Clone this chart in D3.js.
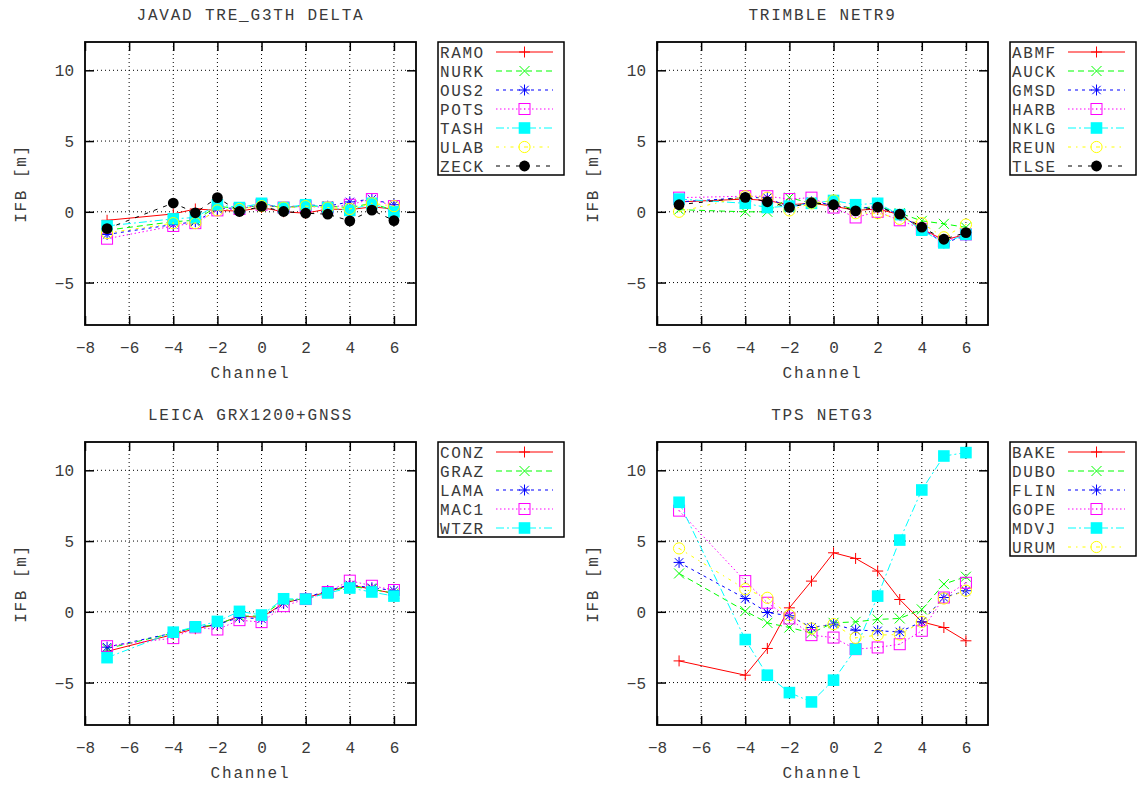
<!DOCTYPE html>
<html><head><meta charset="utf-8">
<script src="https://cdn.jsdelivr.net/npm/d3@7"></script>
<style>
html,body{margin:0;padding:0;background:#fff;}
text{font-family:"Liberation Mono","DejaVu Sans Mono",monospace;fill:#3a3a3a;}
</style></head>
<body><svg id="c" width="1137" height="787"></svg>
<script>
// ---------- data ----------
const channels = [-7, -4, -3, -2, -1, 0, 1, 2, 3, 4, 5, 6];
const xTicks = [-8, -6, -4, -2, 0, 2, 4, 6];
const yTicks = [-5, 0, 5, 10];

const titles = ["JAVAD TRE_G3TH DELTA", "TRIMBLE NETR9", "LEICA GRX1200+GNSS", "TPS NETG3"];

const javadStations = ["RAMO", "NURK", "OUS2", "POTS", "TASH", "ULAB", "ZECK"];
const RAMO = [-0.6, -0.15, 0.2, 0.1, 0.05, 0.3, 0.0, -0.1, 0.2, 0.15, 0.35, 0.2];
const NURK = [-1.3, -0.7, -0.6, 0.4, 0.2, 0.5, 0.3, 0.4, 0.4, 0.3, 0.6, 0.1];
const OUS2 = [-1.6, -0.9, -0.7, 0.2, 0.3, 0.5, 0.3, 0.5, 0.4, 0.7, 0.9, 0.5];
const POTS = [-1.9, -1.0, -0.8, 0.1, 0.2, 0.5, 0.3, 0.4, 0.3, 0.5, 0.9, 0.4];
const TASH = [-1.0, -0.5, -0.4, 0.5, 0.3, 0.6, 0.3, 0.5, 0.3, 0.1, 0.6, 0.0];
const ULAB = [-1.5, -0.8, -0.8, 0.1, 0.2, 0.4, 0.3, 0.4, 0.3, 0.2, 0.6, 0.4];
const ZECK = [-1.19, 0.62, -0.07, 1.0, 0.02, 0.38, 0.02, -0.1, -0.17, -0.64, 0.12, -0.62];

const trimbleStations = ["ABMF", "AUCK", "GMSD", "HARB", "NKLG", "REUN", "TLSE"];
const ABMF = [0.7, 0.9, 0.8, 0.5, 0.6, 0.4, 0.1, 0.2, -0.2, -1.2, -2.0, -1.6];
const AUCK = [0.15, 0.0, 0.0, 1.0, 0.6, 0.5, 0.2, 0.4, -0.1, -0.64, -0.85, -1.1];
const GMSD = [0.7, 1.0, 1.0, 0.3, 0.7, 0.5, 0.2, 0.4, -0.2, -1.2, -2.2, -1.7];
const HARB = [1.0, 1.1, 1.1, 0.9, 1.0, 0.3, -0.4, 0.0, -0.6, -1.2, -2.1, -1.6];
const NKLG = [0.9, 0.6, 0.3, 0.4, 0.6, 0.8, 0.5, 0.6, -0.2, -1.3, -2.2, -1.6];
const REUN = [0.0, 1.1, 1.0, 0.1, 0.6, 0.8, -0.1, -0.1, -0.5, -0.8, -1.8, -0.9];
const TLSE = [0.5, 1.02, 0.71, 0.31, 0.64, 0.5, 0.07, 0.33, -0.17, -1.09, -1.94, -1.47];

const leicaStations = ["CONZ", "GRAZ", "LAMA", "MAC1", "WTZR"];
const CONZ = [-2.8, -1.6, -1.2, -0.9, -0.3, -0.4, 0.6, 1.0, 1.4, 1.9, 1.6, 1.3];
const GRAZ = [-2.6, -1.5, -1.1, -0.9, -0.3, -0.3, 0.8, 0.9, 1.4, 1.8, 1.6, 1.3];
const LAMA = [-2.5, -1.5, -1.1, -0.9, -0.4, -0.5, 0.6, 1.0, 1.5, 1.9, 1.7, 1.5];
const MAC1 = [-2.43, -1.86, -1.1, -1.25, -0.59, -0.73, 0.4, 0.9, 1.4, 2.2, 1.84, 1.54];
const WTZR = [-3.24, -1.44, -1.06, -0.68, 0.03, -0.23, 0.92, 0.9, 1.33, 1.68, 1.4, 1.11];

const tpsStations = ["BAKE", "DUBO", "FLIN", "GOPE", "MDVJ", "URUM"];
const BAKE = [-3.47, -4.48, -2.59, 0.28, 2.17, 4.17, 3.77, 2.88, 0.87, -0.71, -1.11, -2.05];
const DUBO = [2.71, 0.05, -0.78, -1.11, -1.5, -0.78, -0.71, -0.54, -0.47, 0.17, 1.96, 2.48];
const FLIN = [3.49, 0.94, -0.05, -0.28, -1.11, -0.87, -1.3, -1.34, -1.42, -0.71, 1.01, 1.49];
const GOPE = [7.15, 2.17, 0.64, -0.47, -1.65, -1.82, -2.64, -2.52, -2.29, -1.34, 1.01, 2.05];
const MDVJ = [7.74, -1.96, -4.48, -5.71, -6.37, -4.83, -2.64, 1.11, 5.07, 8.61, 11.01, 11.25];
const URUM = [4.48, 1.6, 0.99, -0.24, -1.18, -0.87, -1.84, -1.65, -1.6, -0.71, 0.94, 1.49];

const panelSeries = [
  [RAMO, NURK, OUS2, POTS, TASH, ULAB, ZECK],
  [ABMF, AUCK, GMSD, HARB, NKLG, REUN, TLSE],
  [CONZ, GRAZ, LAMA, MAC1, WTZR],
  [BAKE, DUBO, FLIN, GOPE, MDVJ, URUM]
];
const panelStations = [javadStations, trimbleStations, leicaStations, tpsStations];

// ---------- styles ----------
const colors = ["#ff0000", "#00ff00", "#0000ff", "#ff00ff", "#00ffff", "#ffff00", "#000000"];
const dashes = [null, "6,4", "3,4", "1.5,2.5", "8,3,2,3", "3,5,1.5,5", "4,6"];
const symbols = ["plus", "cross", "star", "osquare", "fsquare", "ocircle", "fcircle"];

const svg = d3.select("#c");
const origins = [[85, 42], [657, 42], [85, 442], [657, 442]];
const PW = 331, PH = 283;

function drawMarker(g, type, x, y, c) {
  const s = 5.5;
  const mk = g.append("g").attr("class", "mk");
  if (type === "plus") {
    mk.append("path").attr("d", `M${x - s},${y}H${x + s}M${x},${y - s}V${y + s}`).style("stroke", c).attr("stroke-width", 1).attr("fill", "none");
  } else if (type === "cross") {
    const t = 5;
    mk.append("path").attr("d", `M${x - t},${y - t}L${x + t},${y + t}M${x - t},${y + t}L${x + t},${y - t}`).style("stroke", c).attr("stroke-width", 1).attr("fill", "none");
  } else if (type === "star") {
    const t = 4.2;
    mk.append("path").attr("d", `M${x - s},${y}H${x + s}M${x},${y - s}V${y + s}M${x - t},${y - t}L${x + t},${y + t}M${x - t},${y + t}L${x + t},${y - t}`).style("stroke", c).attr("stroke-width", 1).attr("fill", "none");
  } else if (type === "osquare") {
    mk.append("rect").attr("x", x - 5.5).attr("y", y - 5.5).attr("width", 11).attr("height", 11).style("stroke", c).attr("stroke-width", 1).attr("fill", "none");
    mk.append("rect").attr("x", x - 0.5).attr("y", y - 0.5).attr("width", 1).attr("height", 1).style("fill", c);
  } else if (type === "fsquare") {
    mk.append("rect").attr("x", x - 5.8).attr("y", y - 5.8).attr("width", 11.6).attr("height", 11.6).style("fill", c);
  } else if (type === "ocircle") {
    mk.append("circle").attr("cx", x).attr("cy", y).attr("r", 5.6).style("stroke", c).attr("stroke-width", 1).attr("fill", "none");
    mk.append("rect").attr("x", x - 0.5).attr("y", y - 0.5).attr("width", 1).attr("height", 1).style("fill", c);
  } else if (type === "fcircle") {
    mk.append("circle").attr("cx", x).attr("cy", y).attr("r", 5.4).style("fill", c);
  }
}

panelSeries.forEach((series, p) => {
  const [ox, oy] = origins[p];
  const g = svg.append("g").attr("transform", `translate(${ox},${oy})`);
  const x = d3.scaleLinear().domain([-8, 7]).range([0, PW]);
  const y = d3.scaleLinear().domain([-8, 12]).range([PH, 0]);

  // grid
  const grid = g.append("g");
  xTicks.filter(t => t > -8).forEach(t => {
    grid.append("line").attr("x1", x(t)).attr("x2", x(t)).attr("y1", 0).attr("y2", PH)
      .attr("stroke", "#000").attr("stroke-width", 1).attr("stroke-dasharray", "1,3");
  });
  yTicks.forEach(t => {
    grid.append("line").attr("x1", 0).attr("x2", PW).attr("y1", y(t)).attr("y2", y(t))
      .attr("stroke", "#000").attr("stroke-width", 1).attr("stroke-dasharray", "1,3");
  });

  // axes via d3 (inside ticks, mirrored)
  const tl = 9;
  const fmt = d => d < 0 ? "\u2212" + Math.abs(d) : d;
  const axB = d3.axisBottom(x).tickValues(xTicks).tickSize(-tl).tickFormat(fmt);
  const axT = d3.axisTop(x).tickValues(xTicks).tickSize(-tl).tickFormat("");
  const axL = d3.axisLeft(y).tickValues(yTicks).tickSize(-tl).tickFormat(fmt);
  const axR = d3.axisRight(y).tickValues(yTicks).tickSize(-tl).tickFormat("");
  const styleAx = (sel) => {
    sel.select(".domain").remove();
    sel.selectAll(".tick line").attr("stroke", "#000").attr("stroke-width", 1.5);
    sel.selectAll("text").style("font-family", '"Liberation Mono", monospace').style("font-size", "16px").style("fill", "#3a3a3a");
  };
  const gb = g.append("g").attr("transform", `translate(0,${PH})`).call(axB).call(styleAx);
  gb.selectAll("text").attr("dy", "0").attr("y", 28);
  g.append("g").call(axT).call(styleAx);
  const gl = g.append("g").call(axL).call(styleAx);
  gl.selectAll("text").attr("x", -11).attr("dy", "0.35em");
  g.append("g").attr("transform", `translate(${PW},0)`).call(axR).call(styleAx);

  // border
  g.append("rect").attr("x", 0).attr("y", 0).attr("width", PW).attr("height", PH)
    .attr("fill", "none").attr("stroke", "#000").attr("stroke-width", 1.8);

  // series
  const line = d3.line().x((d, i) => x(channels[i])).y(d => y(d));
  series.forEach((vals, s) => {
    const sg = g.append("g");
    sg.append("path").attr("d", line(vals)).attr("fill", "none").style("stroke", colors[s])
      .attr("stroke-width", 1).attr("stroke-dasharray", dashes[s]);
    vals.forEach((v, i) => drawMarker(sg, symbols[s], x(channels[i]), y(v), colors[s]));
  });

  // titles/labels
  g.append("text").attr("x", PW / 2).attr("y", -22).attr("text-anchor", "middle")
    .style("font-size", "16px").style("letter-spacing", "1.8px").text(titles[p]);
  g.append("text").attr("x", PW / 2).attr("y", 336).attr("text-anchor", "middle")
    .style("font-size", "16px").style("letter-spacing", "1.8px").text("Channel");
  g.append("text").attr("transform", `translate(-65,${PH / 2}) rotate(-90)`).attr("text-anchor", "middle")
    .attr("dy", "0.35em").style("font-size", "16px").style("letter-spacing", "1.6px").text("IFB [m]");

  // legend
  const names = panelStations[p];
  const lg = g.append("g").attr("transform", `translate(${353},0)`);
  const rowH = 19;
  lg.append("rect").attr("x", 0).attr("y", 0).attr("width", 126).attr("height", names.length * rowH)
    .attr("fill", "#fff").attr("stroke", "#000").attr("stroke-width", 1.5);
  names.forEach((n, s) => {
    const yy = 10 + s * rowH;
    lg.append("text").attr("x", 2).attr("y", yy).attr("dy", "0.36em")
      .style("font-size", "16px").style("letter-spacing", "1.6px").text(n);
    lg.append("line").attr("x1", 58).attr("x2", 115).attr("y1", yy).attr("y2", yy)
      .style("stroke", colors[s]).attr("stroke-width", 1.2).attr("stroke-dasharray", dashes[s]);
    drawMarker(lg, symbols[s], 86.5, yy, colors[s]);
  });
});
</script></body></html>
